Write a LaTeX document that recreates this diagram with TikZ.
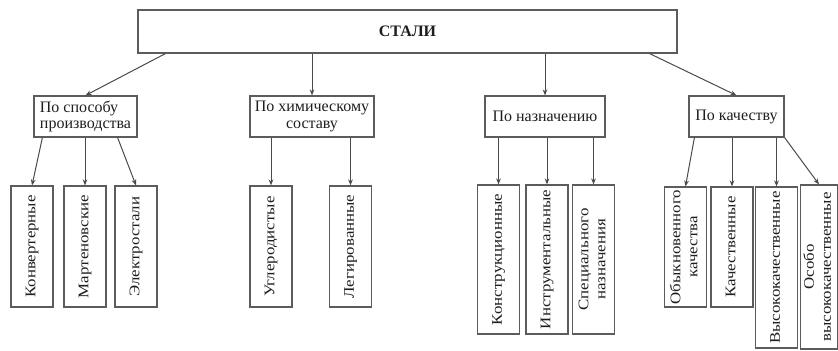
\documentclass[tikz,border=0pt]{standalone}
\usepackage{graphicx}
\usepackage{fontspec}
\setmainfont{Liberation Serif}
\newfontfamily\vertfont[FakeStretch=1.15]{Liberation Serif}
\usepackage{tikz}
\usetikzlibrary{positioning, arrows.meta}
\definecolor{sInk}{HTML}{1E1E1E}
\definecolor{sLine}{HTML}{4A4A4A}
\definecolor{sBox}{HTML}{5C5C5C}
\newcommand{\vtext}[1]{\rotatebox{90}{\vertfont\fontsize{11}{12.75}\selectfont\begin{tabular}{@{}c@{}}#1\end{tabular}}}

\begin{document}
\begin{tikzpicture}[x=0.75pt, y=-0.75pt, >={Stealth[length=4.5pt,width=3.5pt]},
  box/.style={draw=sBox, line width=0.9pt, fill=white, text=sInk, inner sep=1pt},
  head/.style={box, minimum height=30.75pt, font=\fontsize{12}{12.5}\selectfont},
  leaf/.style={box, minimum width=31.5pt},
  link/.style={->, sLine, line width=0.75pt}]
  \useasboundingbox (0,0) rectangle (838,350);
  \node[box, minimum width=404.25pt, minimum height=32.25pt, font=\bfseries\fontsize{12}{14}\selectfont] (steel) at (407.5,31.5) {СТАЛИ};

  \node[head, minimum width=77.25pt, align=left] (prod) at (85.5,116.5) {По способу\\производства};
  \node[head, minimum width=93pt, align=center] (chem) at (312,116.5) {По химическому\\составу};
  \node[head, minimum width=90pt] (use) at (545,116.5) {По назначению};
  \node[head, minimum width=71.25pt] (qual) at (736.5,116.5) {По качеству};

  \node[leaf, minimum height=90.75pt] (conv) at (32,246.5) {\vtext{Конвертерные}};
  \node[leaf, minimum height=90.75pt] (mart) at (85,246.5) {\vtext{Мартеновские}};
  \node[leaf, minimum height=90.75pt] (elec) at (136,246.5) {\vtext{Электростали}};
  \node[leaf, minimum height=90.75pt] (carb) at (271,246.5) {\vtext{Углеродистые}};
  \node[leaf, minimum height=90.75pt] (alloy) at (350.5,246.5) {\vtext{Легированные}};
  \node[leaf, minimum height=111.75pt] (constr) at (498.5,259.5) {\vtext{Конструкционные}};
  \node[leaf, minimum height=111.75pt] (tool) at (547,259.5) {\vtext{Инструментальные}};
  \node[leaf, minimum height=111.75pt] (spec) at (593.5,259.5) {\vtext{Специального\\назначения}};
  \node[leaf, minimum height=90pt] (ord) at (685.5,247) {\vtext{Обыкновенного\\качества}};
  \node[leaf, minimum height=90pt] (good) at (732,247) {\vtext{Качественные}};
  \node[leaf, minimum height=120.75pt] (high) at (776.5,267.5) {\vtext{Высококачественные}};
  \node[leaf, minimum width=27pt, minimum height=123pt] (extra) at (819,267) {\vtext{Особо\\высококачественные}};

  \draw[link] ([xshift=21pt]steel.south west) -- (prod.north);
  \draw[link] (chem.north |- steel.south) -- (chem.north);
  \draw[link] (use.north |- steel.south) -- (use.north);
  \draw[link] ([xshift=-21pt]steel.south east) -- (qual.north);

  \draw[link] ([xshift=6.75pt]prod.south west) -- (conv.north);
  \draw[link] (mart.north |- prod.south) -- (mart.north);
  \draw[link] ([xshift=-15pt]prod.south east) -- (elec.north);
  \draw[link] (carb.north |- chem.south) -- (carb.north);
  \draw[link] (alloy.north |- chem.south) -- (alloy.north);
  \foreach \n in {constr,tool,spec}
    \draw[link] (\n.north |- use.south) -- (\n.north);
  \draw[link] ([xshift=4.5pt]qual.south west) -- (ord.north);
  \draw[link] (good.north |- qual.south) -- (good.north);
  \draw[link] (high.north |- qual.south) -- (high.north);
  \draw[link] (qual.south east) -- (extra.north);
\end{tikzpicture}
\end{document}
